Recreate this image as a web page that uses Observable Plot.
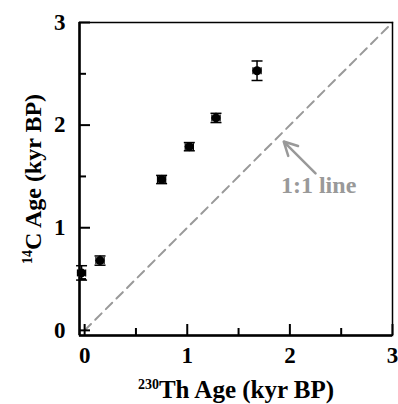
<!DOCTYPE html>
<html><head><meta charset="utf-8">
<script src="https://cdn.jsdelivr.net/npm/d3@7"></script>
<script src="https://cdn.jsdelivr.net/npm/@observablehq/plot@0.6"></script>
<style>body{margin:0;background:#fff}</style>
</head><body><div id="chart"></div>
<script>
// Data
const thAge = [-0.03, 0.15, 0.75, 1.02, 1.28, 1.68];   // 230Th age (kyr BP)
const cAge  = [0.56, 0.68, 1.47, 1.79, 2.07, 2.53];    // 14C age (kyr BP)
const cErr  = [0.07, 0.045, 0.04, 0.04, 0.045, 0.095];
const thErr = [0.04, 0.04, 0.04, 0.04, 0.04, 0.04];
const majorTicks = [0, 1, 2, 3];
const minorTicks = [0.5, 1.5, 2.5];
const majorLabels = ["0", "1", "2", "3"];
const oneToOne = [0, 3];
const arrowTail = [2.25, 1.53];
const arrowHead = [1.94, 1.84];
const lineLabel = ["1:1 line"];
const lineLabelPos = [2.28, 1.41];
const xTitle = "230Th Age (kyr BP)";
const yTitle = "14C Age (kyr BP)";
const domainMin = -0.05, domainMax = 3;

const data = thAge.map((x, i) => ({x, y: cAge[i], ey: cErr[i], ex: thErr[i]}));
const diag = oneToOne.map(v => ({x: v, y: v}));

const capH = {draw(ctx) { ctx.moveTo(-5.5, 0); ctx.lineTo(5.5, 0); }};
const capV = {draw(ctx) { ctx.moveTo(0, -3.5); ctx.lineTo(0, 3.5); }};

const tickFont = {fontSize: 23, fontWeight: "bold"};

const chart = Plot.plot({
  width: 398, height: 404,
  marginLeft: 79, marginRight: 6, marginTop: 22, marginBottom: 69,
  style: {fontFamily: "Liberation Serif, Times New Roman, serif", background: "#fff", color: "black"},
  x: {domain: [domainMin, domainMax], label: null},
  y: {domain: [domainMin, domainMax], label: null},
  marks: [
    Plot.line(diag, {x: "x", y: "y", stroke: "#999", strokeWidth: 2, strokeDasharray: "9,6"}),
    Plot.arrow([0], {x1: () => arrowTail[0], y1: () => arrowTail[1], x2: () => arrowHead[0], y2: () => arrowHead[1],
      stroke: "#999", strokeWidth: 2.5, headLength: 14, headAngle: 55}),
    Plot.text(lineLabel, {x: () => lineLabelPos[0], y: () => lineLabelPos[1], text: d => d,
      fill: "#999", fontSize: 24, fontWeight: "bold", lineAnchor: "middle"}),
    // y error bars
    Plot.ruleX(data, {x: "x", y1: d => d.y - d.ey, y2: d => d.y + d.ey, stroke: "black", strokeWidth: 1.5}),
    Plot.dot(data, {x: "x", y: d => d.y + d.ey, symbol: capH, stroke: "black", strokeWidth: 1.5}),
    Plot.dot(data, {x: "x", y: d => d.y - d.ey, symbol: capH, stroke: "black", strokeWidth: 1.5}),
    // x error bars
    Plot.ruleY(data, {y: "y", x1: d => d.x - d.ex, x2: d => d.x + d.ex, stroke: "black", strokeWidth: 1.2}),
    Plot.dot(data, {x: d => d.x - d.ex, y: "y", symbol: capV, stroke: "black", strokeWidth: 1.2}),
    Plot.dot(data, {x: d => d.x + d.ex, y: "y", symbol: capV, stroke: "black", strokeWidth: 1.2}),
    Plot.dot(data, {x: "x", y: "y", r: 4.5, fill: "black"}),
    // frame
    Plot.frame({stroke: "black", strokeWidth: 1.5}),
    Plot.ruleX([domainMin], {stroke: "black", strokeWidth: 2.5}),
    Plot.ruleY([domainMin], {stroke: "black", strokeWidth: 2.5}),
    // axes with inward ticks
    Plot.axisX({ticks: majorTicks, tickFormat: d => majorLabels[majorTicks.indexOf(d)], tickSize: -11, tickPadding: 22, strokeWidth: 2, ...tickFont, label: null}),
    Plot.axisX({ticks: minorTicks, tickFormat: () => "", tickSize: -7, strokeWidth: 2, label: null}),
    Plot.axisY({ticks: majorTicks, tickFormat: d => majorLabels[majorTicks.indexOf(d)], tickSize: -11, tickPadding: 25, strokeWidth: 2, ...tickFont, label: null}),
    Plot.axisY({ticks: minorTicks, tickFormat: () => "", tickSize: -7, strokeWidth: 2, label: null}),
    // axis titles
    Plot.text([xTitle], {frameAnchor: "bottom", dy: 54, text: d => d, textAnchor: "middle", lineAnchor: "middle", fontSize: 25, fontWeight: "bold"}),
    Plot.text([yTitle], {frameAnchor: "left", dx: -46, text: d => d, rotate: -90, textAnchor: "middle", lineAnchor: "middle", fontSize: 24, fontWeight: "bold"})
  ]
});

// superscripts for isotope numbers
d3.select(chart).selectAll("text").each(function() {
  const t = this.textContent;
  const m = t === xTitle ? /^(230)(.*)$/.exec(t) : t === yTitle ? /^(14)(.*)$/.exec(t) : null;
  if (!m) return;
  const sel = d3.select(this);
  sel.text(null);
  sel.append("tspan").attr("font-size", 14).attr("dy", -9).text(m[1]);
  sel.append("tspan").attr("dy", 9).text(m[2]);
});

document.getElementById("chart").appendChild(chart);
</script>
</body></html>
